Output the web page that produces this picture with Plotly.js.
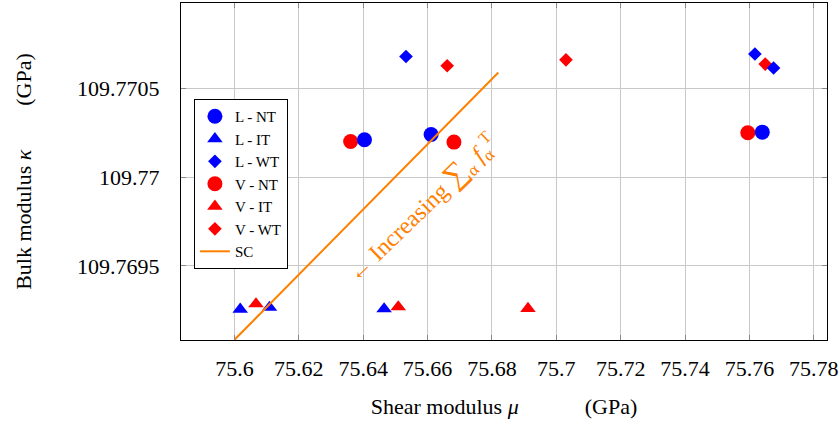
<!DOCTYPE html>
<html>
<head>
<meta charset="utf-8">
<script src="https://cdn.plot.ly/plotly-3.0.1.min.js"></script>
<style>html,body{margin:0;padding:0;background:#fff;}#chart{width:840px;height:425px;}</style>
</head>
<body>
<div id="chart"></div>
<script>
// Data (shear modulus mu, bulk modulus kappa, GPa)
var lntX = [75.6404, 75.6611, 75.7640];
var lntY = [109.77021, 109.77024, 109.770253];
var litX = [75.6018, 75.6109, 75.6465];
var litY = [109.769256, 109.769266, 109.769258];
var lwtX = [75.6533, 75.7617, 75.7675];
var lwtY = [109.770679, 109.770693, 109.770614];
var vntX = [75.6361, 75.6682, 75.7595];
var vntY = [109.77020, 109.770197, 109.77025];
var vitX = [75.6067, 75.6509, 75.6912];
var vitY = [109.769286, 109.769269, 109.76926];
var vwtX = [75.6661, 75.7030, 75.7649];
var vwtY = [109.770627, 109.77066, 109.770636];
var scX = [75.6, 75.682];
var scY = [109.769084, 109.770589];

var xTickVals = [75.6, 75.62, 75.64, 75.66, 75.68, 75.7, 75.72, 75.74, 75.76, 75.78];
var xTickText = ["75.6", "75.62", "75.64", "75.66", "75.68", "75.7", "75.72", "75.74", "75.76", "75.78"];
var yTickVals = [109.7695, 109.77, 109.7705];
var yTickText = ["109.7695", "109.77", "109.7705"];

var BLUE = "#0000ff", RED = "#ff0000", ORANGE = "#ff8000";
var FONT = "Liberation Serif, Times New Roman, serif";

function pts(x, y, name, color, symbol, size, rank) {
  return {x: x, y: y, name: name, type: "scatter", mode: "markers", legendrank: rank,
    marker: {color: color, symbol: symbol, size: size, line: {width: 0}}};
}

var traces = [
  pts(vntX, vntY, "V - NT", RED, "circle", 15, 4),
  pts(vitX, vitY, "V - IT", RED, "triangle-up", 13.5, 5),
  pts(vwtX, vwtY, "V - WT", RED, "diamond", 10.5, 6),
  pts(lntX, lntY, "L - NT", BLUE, "circle", 15, 1),
  pts(litX, litY, "L - IT", BLUE, "triangle-up", 13.5, 2),
  pts(lwtX, lwtY, "L - WT", BLUE, "diamond", 10.5, 3),
  {x: scX, y: scY, name: "SC", type: "scatter", mode: "lines", legendrank: 7,
   line: {color: ORANGE, width: 2}}
];

var nb = function(n){ return new Array(n + 1).join("\u00a0"); };

var layout = {
  width: 840, height: 425,
  margin: {l: 181, r: 13, t: 3, b: 85},
  paper_bgcolor: "#ffffff", plot_bgcolor: "#ffffff",
  font: {family: FONT, size: 22, color: "#000"},
  showlegend: true,
  legend: {x: 0.02, y: 0.715, xanchor: "left", yanchor: "top",
    bgcolor: "#ffffff", bordercolor: "#000", borderwidth: 1,
    font: {family: FONT, size: 15, color: "#000"}, traceorder: "normal"},
  xaxis: {range: [75.5834, 75.7841], tickvals: xTickVals, ticktext: xTickText,
    showgrid: true, gridcolor: "#c8c8c8", gridwidth: 1, zeroline: false,
    showline: true, linecolor: "#000", linewidth: 1, mirror: "ticks",
    ticks: "inside", ticklen: 5, tickcolor: "#888", ticklabelstandoff: 9,
    tickfont: {family: FONT, size: 22},
    title: {text: "Shear modulus <i>μ</i>" + nb(12) + "(GPa)", font: {family: FONT, size: 22}, standoff: 18}},
  yaxis: {range: [109.769083, 109.77098], tickvals: yTickVals, ticktext: yTickText,
    showgrid: true, gridcolor: "#c8c8c8", gridwidth: 1, zeroline: false,
    showline: true, linecolor: "#000", linewidth: 1, mirror: "ticks",
    ticks: "inside", ticklen: 5, tickcolor: "#888", ticklabelstandoff: 16,
    tickfont: {family: FONT, size: 22},
    title: {text: "Bulk modulus <i>κ</i>" + nb(8) + "(GPa)", font: {family: FONT, size: 22}, standoff: 39}},
  annotations: [{
    x: 75.6580, y: 109.769830, xref: "x", yref: "y", showarrow: false,
    xanchor: "center", yanchor: "middle", textangle: -44,
    text: "← Increasing <span style='font-size:31px'>∑</span><sub>α</sub> <i>f</i><sub>α</sub><sup>T</sup>",
    font: {family: FONT, size: 24, color: ORANGE}
  }]
};

Plotly.newPlot("chart", traces, layout, {displayModeBar: false, staticPlot: true});
</script>
</body>
</html>
